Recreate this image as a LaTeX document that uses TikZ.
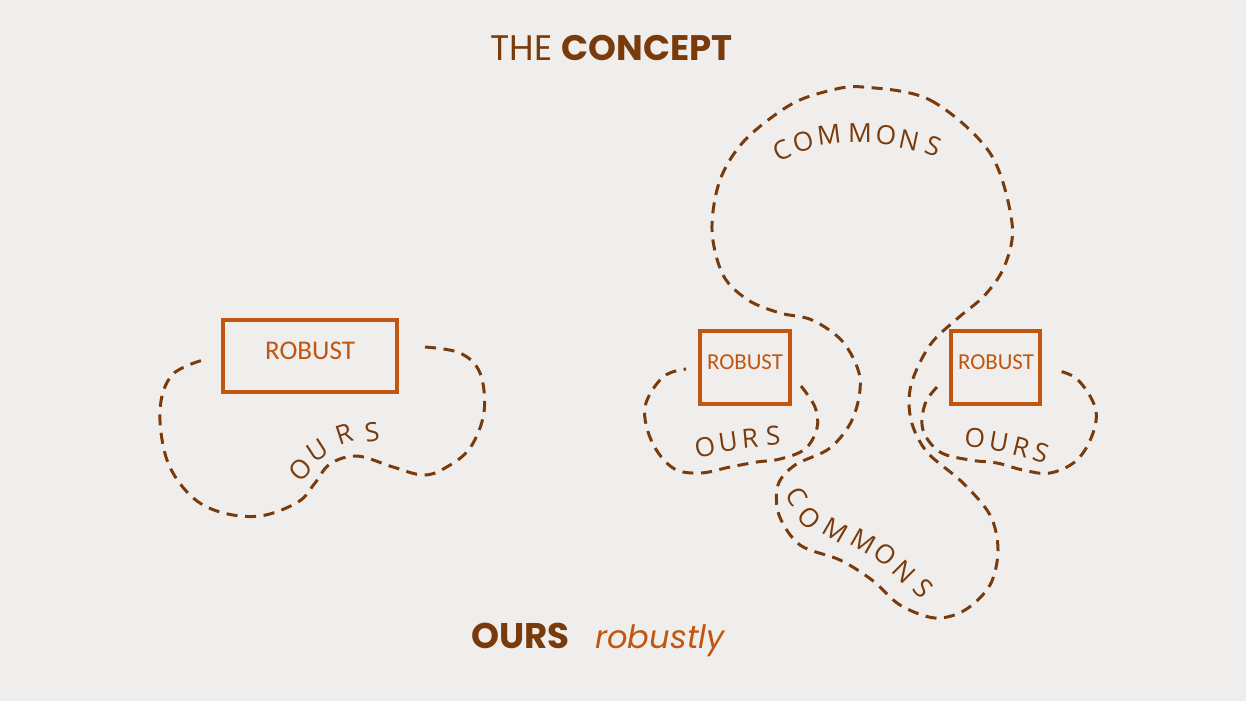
\documentclass[tikz,border=0pt]{standalone}
\usepackage{fontspec}
\setmainfont{Open Sans}
\newfontfamily\popfont{Poppins}
\newfontfamily\calfont{Carlito}
\definecolor{bg}{HTML}{F0EEEC}
\definecolor{dkbrown}{HTML}{7A3B0C}
\definecolor{orng}{HTML}{C0560F}
\begin{document}
\begin{tikzpicture}[x=0.02cm,y=-0.02cm,
  dashline/.style={draw=dkbrown, line width=1.7pt, dash pattern=on 6.3pt off 4.3pt},
  robustbox/.style={draw=orng, line width=2.8pt, inner sep=0pt},
  robtext/.style={text=orng, anchor=base, inner sep=0pt},
  curvlet/.style={text=dkbrown, font=\fontsize{15}{15}\selectfont, inner sep=0pt}]
\fill[bg] (0,0) rectangle (1246,701);
\useasboundingbox (0,0) rectangle (1246,701);

% title
\node[anchor=base west, inner sep=0pt, text=dkbrown] (title) at (490,60)
  {\popfont\fontsize{20.2}{20.2}\selectfont THE \textbf{CONCEPT}};

% bottom caption
\node[anchor=base west, inner sep=0pt, text=dkbrown] (cap1) at (471,648)
  {\popfont\fontsize{20.3}{20.3}\selectfont\bfseries OURS};
\node[anchor=base west, inner sep=0pt, text=orng] (cap2) at (595,648)
  {\popfont\fontsize{18.3}{18.3}\selectfont\itshape robustly};

% ---------- left group ----------
\node[robustbox, minimum width=3.48cm, minimum height=1.44cm] (boxL) at (310,356) {};
\node[robtext] (robL) at (310,359) {\calfont\fontsize{15.4}{15.4}\selectfont ROBUST};

\draw[dashline] plot[smooth, tension=0.6] coordinates {
  (425,347) (460,353) (480,373) (484,412) (470,448) (445,468) (423,475)
  (393,467) (357,456) (330,464) (315,483) (298,502) (260,516) (220,512)
  (190,495) (167,460) (160,410) (172,375) (203,360)};

\node[curvlet, rotate=47] (oL1) at (301,470) {O};
\node[curvlet, rotate=33] (oL2) at (317,450) {U};
\node[curvlet, rotate=18] (oL3) at (344,434) {R};
\node[curvlet, rotate=8]  (oL4) at (372,432) {S};

% ---------- right group ----------
\node[robustbox, minimum width=1.8cm, minimum height=1.46cm] (boxM) at (745,367.5) {};
\node[robtext] (robM) at (745,369) {\calfont\fontsize{13}{13}\selectfont ROBUST};
\node[robustbox, minimum width=1.78cm, minimum height=1.46cm] (boxR) at (995.5,367.5) {};
\node[robtext] (robR) at (996,369) {\calfont\fontsize{13}{13}\selectfont ROBUST};

% middle OURS loop
\draw[dashline] plot[smooth, tension=0.6] coordinates {
  (801,386) (815,407) (817,428) (805,449) (780,459) (757,462) (730,467)
  (700,473) (673,468) (652,442) (645,407) (663,377) (686,369)};
\node[curvlet, rotate=12] (oM1) at (705,447) {O};
\node[curvlet, rotate=8]  (oM2) at (728,442) {U};
\node[curvlet, rotate=5]  (oM3) at (750,438) {R};
\node[curvlet, rotate=3]  (oM4) at (773,436) {S};

% right OURS loop
\draw[dashline] plot[smooth, tension=0.6] coordinates {
  (937,387) (925,404) (923,430) (940,452) (970,460) (997,463) (1023,470)
  (1050,473) (1077,460) (1093,433) (1095,407) (1077,379) (1055,370)};
\node[curvlet, rotate=-5]  (oR1) at (975,438) {O};
\node[curvlet, rotate=-10] (oR2) at (999,442) {U};
\node[curvlet, rotate=-14] (oR3) at (1021,447) {R};
\node[curvlet, rotate=-18] (oR4) at (1041,453) {S};

% big commons loop
\draw[dashline] plot[smooth cycle, tension=0.55] coordinates {
  (863,87) (930,100) (990,153) (1012,223) (1005,265) (985,295) (958,318)
  (930,345) (911,385) (911,420) (927,452) (962,482) (990,515) (998,550)
  (990,585) (965,610) (935,618) (900,605) (872,580) (840,560) (800,545)
  (779,515) (778,485) (795,465) (830,448) (853,418) (860,378) (843,342)
  (812,320) (780,313) (748,300) (723,275) (712,230) (720,180) (745,140)
  (790,105) (828,91)};

\node[curvlet, rotate=25]  (cT1) at (782,150) {C};
\node[curvlet, rotate=15]  (cT2) at (803,142) {O};
\node[curvlet, rotate=7]   (cT3) at (829,135) {M};
\node[curvlet, rotate=0]   (cT4) at (860,133) {M};
\node[curvlet, rotate=-6]  (cT5) at (886,135) {O};
\node[curvlet, rotate=-12] (cT6) at (909,140) {N};
\node[curvlet, rotate=-20] (cT7) at (933,146) {S};

\node[curvlet, rotate=-58] (cB1) at (797,497) {C};
\node[curvlet, rotate=-45] (cB2) at (809,518) {O};
\node[curvlet, rotate=-30] (cB3) at (835,530) {M};
\node[curvlet, rotate=-30] (cB4) at (863,541) {M};
\node[curvlet, rotate=-38] (cB5) at (885,554) {O};
\node[curvlet, rotate=-45] (cB6) at (904,572) {N};
\node[curvlet, rotate=-47] (cB7) at (923,588) {S};
\end{tikzpicture}
\end{document}
